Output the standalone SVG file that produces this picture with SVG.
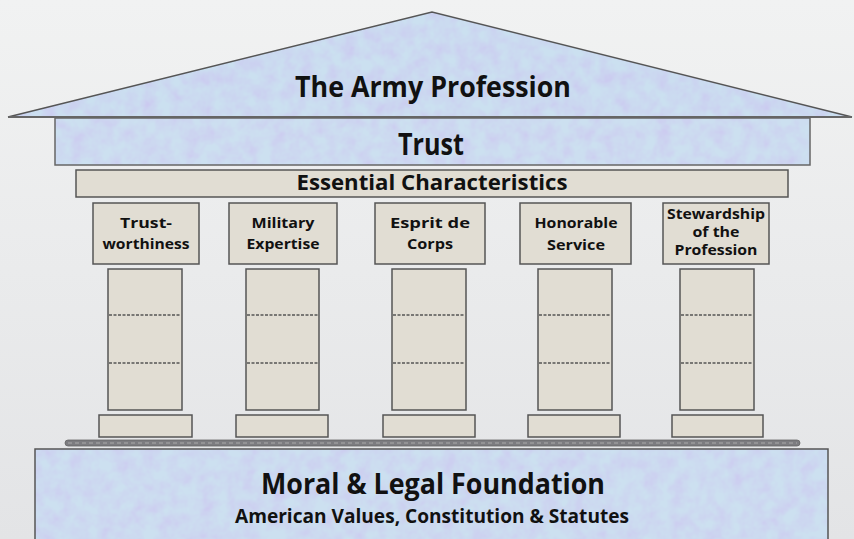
<svg xmlns="http://www.w3.org/2000/svg" width="854" height="539" viewBox="0 0 854 539">
<defs>
<linearGradient id="bg" x1="0" y1="0" x2="0" y2="1">
<stop offset="0" stop-color="#f1f2f2"/>
<stop offset="1" stop-color="#e3e4e6"/>
</linearGradient>
<filter id="marble" x="0" y="0" width="100%" height="100%">
<feTurbulence type="fractalNoise" baseFrequency="0.07" numOctaves="3" seed="4" result="n"/>
<feColorMatrix in="n" type="matrix" values="0 0 0 0 0.80  0.7 0 0 0 0.50  0 0 0 0 0.93  0 0 0 0 0.6"/>
</filter>
<clipPath id="roofClip"><polygon points="8,117 432,12 852,117"/></clipPath>
<clipPath id="trustClip"><rect x="55" y="118" width="755" height="47"/></clipPath>
<clipPath id="foundClip"><rect x="35" y="449" width="793" height="95"/></clipPath>
<style>
.blue{fill:#bccfec;}
.beige{fill:#e1ddd3;stroke:#555;stroke-width:1.5;}
.edge{fill:none;stroke:#555;stroke-width:1.5;}
.dash{stroke:#555;stroke-width:1.5;stroke-dasharray:3 1.5;}
.t{font-family:"Open Sans","Liberation Sans",sans-serif;font-weight:bold;fill:#111;text-anchor:middle;}
.cap{font-size:14.5px;}
</style>
</defs>
<rect x="0" y="0" width="854" height="539" fill="url(#bg)"/>

<g id="roof">
<polygon class="blue" points="8,117 432,12 852,117"/>
<rect x="0" y="0" width="854" height="120" filter="url(#marble)" clip-path="url(#roofClip)" opacity="0.6"/>
<polyline class="edge" points="8,117 432,12 852,117"/>
<line x1="8" y1="117" x2="852" y2="117" stroke="#666" stroke-width="2"/>
<text class="t" x="433" y="97" font-size="29" textLength="276" lengthAdjust="spacingAndGlyphs">The Army Profession</text>
</g>

<g id="trust">
<rect class="blue" x="55" y="118" width="755" height="47"/>
<rect x="55" y="118" width="755" height="47" filter="url(#marble)" clip-path="url(#trustClip)" opacity="0.6"/>
<rect x="55" y="118" width="755" height="47" fill="none" stroke="#666" stroke-width="1.5"/>
<text class="t" x="431" y="155" font-size="30" textLength="66" lengthAdjust="spacingAndGlyphs">Trust</text>
</g>

<g id="essential">
<rect class="beige" x="76" y="170" width="712" height="27"/>
<text class="t" x="432" y="190" font-size="21" textLength="271" lengthAdjust="spacingAndGlyphs">Essential Characteristics</text>
</g>

<g id="col1">
<rect class="beige" x="93" y="203" width="106" height="61"/>
<text class="t cap" x="146" y="228" textLength="52" lengthAdjust="spacingAndGlyphs">Trust-</text>
<text class="t cap" x="146" y="249" textLength="87" lengthAdjust="spacingAndGlyphs">worthiness</text>
<rect class="beige" x="108" y="269" width="74" height="141"/>
<line class="dash" x1="109" y1="315" x2="181" y2="315"/>
<line class="dash" x1="109" y1="363" x2="181" y2="363"/>
<rect class="beige" x="99" y="415" width="93" height="22"/>
</g>

<g id="col2">
<rect class="beige" x="229" y="203" width="108" height="61"/>
<text class="t cap" x="283" y="228" textLength="63" lengthAdjust="spacingAndGlyphs">Military</text>
<text class="t cap" x="283" y="249" textLength="73" lengthAdjust="spacingAndGlyphs">Expertise</text>
<rect class="beige" x="246" y="269" width="73" height="141"/>
<line class="dash" x1="247" y1="315" x2="318" y2="315"/>
<line class="dash" x1="247" y1="363" x2="318" y2="363"/>
<rect class="beige" x="236" y="415" width="92" height="22"/>
</g>

<g id="col3">
<rect class="beige" x="375" y="203" width="110" height="61"/>
<text class="t cap" x="430" y="228" textLength="80" lengthAdjust="spacingAndGlyphs">Esprit de</text>
<text class="t cap" x="430" y="249" textLength="46" lengthAdjust="spacingAndGlyphs">Corps</text>
<rect class="beige" x="392" y="269" width="74" height="141"/>
<line class="dash" x1="393" y1="315" x2="465" y2="315"/>
<line class="dash" x1="393" y1="363" x2="465" y2="363"/>
<rect class="beige" x="383" y="415" width="92" height="22"/>
</g>

<g id="col4">
<rect class="beige" x="520" y="203" width="111" height="61"/>
<text class="t cap" x="576" y="228" textLength="83" lengthAdjust="spacingAndGlyphs">Honorable</text>
<text class="t cap" x="576" y="250" textLength="58" lengthAdjust="spacingAndGlyphs">Service</text>
<rect class="beige" x="538" y="269" width="74" height="141"/>
<line class="dash" x1="539" y1="315" x2="611" y2="315"/>
<line class="dash" x1="539" y1="363" x2="611" y2="363"/>
<rect class="beige" x="528" y="415" width="92" height="22"/>
</g>

<g id="col5">
<rect class="beige" x="663" y="203" width="106" height="61"/>
<text class="t cap" x="716" y="219" textLength="98" lengthAdjust="spacingAndGlyphs">Stewardship</text>
<text class="t cap" x="716" y="237" textLength="47" lengthAdjust="spacingAndGlyphs">of the</text>
<text class="t cap" x="716" y="255" textLength="83" lengthAdjust="spacingAndGlyphs">Profession</text>
<rect class="beige" x="680" y="269" width="74" height="141"/>
<line class="dash" x1="681" y1="315" x2="753" y2="315"/>
<line class="dash" x1="681" y1="363" x2="753" y2="363"/>
<rect class="beige" x="672" y="415" width="91" height="22"/>
</g>

<g id="stylobate">
<rect x="65" y="440" width="735" height="6" rx="3" fill="#7c7c80" stroke="#666" stroke-width="0.8"/>
<line x1="68" y1="443" x2="797" y2="443" stroke="#aaa" stroke-width="1" stroke-dasharray="4 3"/>
</g>

<g id="foundation">
<rect class="blue" x="35" y="449" width="793" height="95"/>
<rect x="35" y="449" width="793" height="95" filter="url(#marble)" clip-path="url(#foundClip)" opacity="0.6"/>
<rect x="35" y="449" width="793" height="95" fill="none" stroke="#555" stroke-width="1.5"/>
<text class="t" x="433" y="494" font-size="29" textLength="344" lengthAdjust="spacingAndGlyphs">Moral &amp; Legal Foundation</text>
<text class="t" x="432" y="523" font-size="19.5" textLength="394" lengthAdjust="spacingAndGlyphs">American Values, Constitution &amp; Statutes</text>
</g>
<g id="connectors"></g>
</svg>
